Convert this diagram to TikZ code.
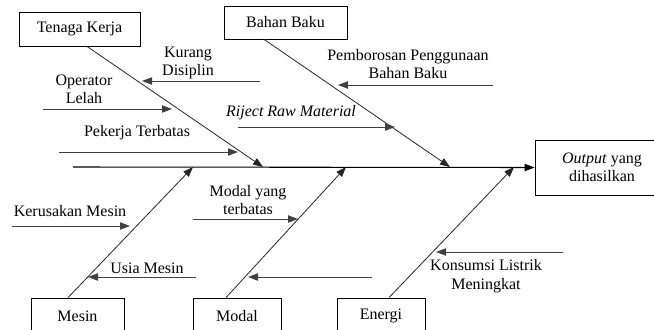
\documentclass[tikz,border=0pt]{standalone}
\usepackage{fontspec}
\setmainfont{Liberation Serif}
\usetikzlibrary{arrows.meta}

\begin{document}
\begin{tikzpicture}[x=0.75pt,y=-0.75pt,>={Triangle[length=7.5pt,width=5.5pt]},
    box/.style={draw,line width=0.6pt,rectangle,inner sep=0pt,align=center,font=\fontsize{12}{13.8}\selectfont},
    lbl/.style={inner sep=0pt,align=center,font=\fontsize{12}{13.8}\selectfont},
    bone/.style={draw=black!85,line width=0.6pt,->},
    cause/.style={draw=black!75,line width=0.7pt,->}]
      \useasboundingbox (0,0) rectangle (654,329);
      \clip (0,0) rectangle (654,329);
      \node [box,minimum width=90.75pt,minimum height=25.5pt] (tk) at (79.5,29) {Tenaga Kerja};
      \node [box,minimum width=92.25pt,minimum height=24.75pt] (bb) at (285.5,22.5) {Bahan Baku};
      \node [box,minimum width=100.5pt,minimum height=41.25pt] (out) at (602,167.5) {\textit{Output} yang\\dihasilkan};
      \node [box,minimum width=69.75pt,minimum height=27pt] (mesin) at (77.5,316) {Mesin};
      \node [box,minimum width=66pt,minimum height=27pt] (modal) at (237,316) {Modal};
      \node [box,minimum width=66pt,minimum height=27pt] (energi) at (381,316) {Energi};
      \coordinate (spine) at (73,167);
      \coordinate (tkh) at (263,167);
      \coordinate (bbh) at (450,167);
      \coordinate (mesinh) at (193,167);
      \coordinate (modalh) at (346,167);
      \coordinate (energih) at (514,167);
      \draw [->,line width=0.8pt] (spine) -- (out.west);
      \path
      ([xshift=5.6pt]tk.south) edge [bone] (tkh)
      ([xshift=-16.1pt]bb.south) edge [bone] (bbh)
      ([xshift=-7.1pt]mesin.north) edge [bone] (mesinh)
      ([xshift=-8.25pt]modal.north) edge [bone] (modalh)
      ([xshift=6pt]energi.north) edge [bone] (energih)
      ;
      \coordinate (kd0) at (260,81);   \coordinate (kd1) at (142,81);
      \coordinate (ol0) at (43,109);   \coordinate (ol1) at (172,109);
      \coordinate (pt0) at (59,152);   \coordinate (pt1) at (238,152);
      \coordinate (rr0) at (238,127);  \coordinate (rr1) at (395,127);
      \coordinate (pb0) at (493,85);   \coordinate (pb1) at (338,85);
      \coordinate (km0) at (12,226);   \coordinate (km1) at (130,226);
      \coordinate (um0) at (196,277);  \coordinate (um1) at (88,277);
      \coordinate (my0) at (193,219);  \coordinate (my1) at (298,219);
      \coordinate (md0) at (372,277);  \coordinate (md1) at (248,277);
      \coordinate (kl0) at (563,252);  \coordinate (kl1) at (436,252);
      \path
      (kd0) edge [cause] (kd1)
      (ol0) edge [cause] (ol1)
      (pt0) edge [cause] (pt1)
      (rr0) edge [cause] (rr1)
      (pb0) edge [cause] (pb1)
      (km0) edge [cause] (km1)
      (um0) edge [cause] (um1)
      (my0) edge [cause] (my1)
      (md0) edge [cause] (md1)
      (kl0) edge [cause] (kl1)
      ;
      \node [lbl] (kdl) at (188,63) {Kurang\\Disiplin};
      \node [lbl] (oll) at (84,89) {Operator\\Lelah};
      \node [lbl] (ptl) at (137,133) {Pekerja Terbatas};
      \node [lbl] (rrl) at (291,113) {\textit{Riject Raw Material}};
      \node [lbl] (pbl) at (408,64) {Pemborosan Penggunaan\\Bahan Baku};
      \node [lbl] (kml) at (70,211) {Kerusakan Mesin};
      \node [lbl] (uml) at (147,268) {Usia Mesin};
      \node [lbl] (myl) at (248,200) {Modal yang\\terbatas};
      \node [lbl] (kll) at (486,276) {Konsumsi Listrik\\Meningkat};
\end{tikzpicture}
\end{document}
